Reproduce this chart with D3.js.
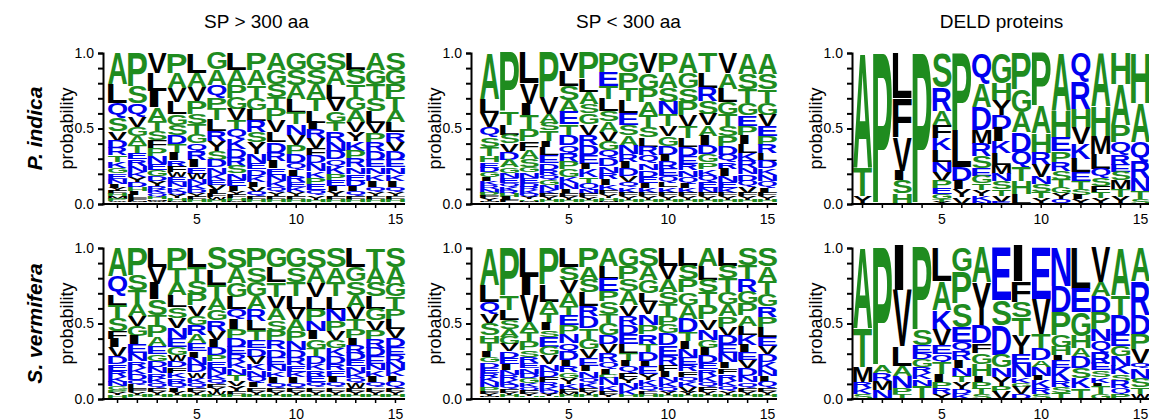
<!DOCTYPE html>
<html lang="en">
<head>
<meta charset="utf-8">
<script src="https://cdn.jsdelivr.net/npm/d3@7"></script>
<style>
  body { margin: 0; background: #fff; }
  svg text { font-family: "Liberation Sans", Arial, sans-serif; }
</style>
</head>
<body>
<script>
const positions = d3.range(1, 16)
const xTickLabels = [5, 10, 15]
const yTickLabels = [0, 0.5, 1]
const colTitles = ['SP > 300 aa', 'SP < 300 aa', 'DELD proteins']
const rowTitles = ['P. indica', 'S. vermifera']

// one string per position, letters listed top to bottom, value = probability in %
const indicaLong = [
  'A20 L12 Q10 S8 V6 D5 R4.5 T4 K4 G3.5 E3.5 N3 I2.5 Y2 F2 H1.5 M1.5 P1.5 W1 C1',
  'P20 S10 Q8 V6 G5.5 A5 T4.5 E4 R4 N3.5 K3 Y3 D3 H2.5 I2 L2 F1.5 M1 W1',
  'V12 L11 I10 A8 T6 S5.5 F5 P5 N4.5 E4 G3.5 D3 Y3 R2.5 K2 Q2 H1.5 M1 W1 C1',
  'P12 A9 V8.5 L7.5 G6.5 S6 D5.5 T5 I4.5 R4 F3.5 W3 E3 N3 K2.5 Q2 Y2 H1.5 M1 C1',
  'L12 A9 V8.5 P7.5 S6.5 T6 G5.5 Q5 R5 I4.5 E4 W3.5 N3 K3 D2.5 Y2 F2 H1.5 M1',
  'G10 A9 Q8 P6.5 T7 L6.5 R6 Y6 S5.5 D4.5 N4 K3.5 E3 V3 I2.5 F2 W1.5 H1.5 M1',
  'L10 A9 P8 G7 V6.5 T6 Q5.5 K6 D5 R5 S4.5 N4 E3.5 I3 Y2.5 F2 H1.5 M1 W1',
  'P10 A9 T8 G7 L6.5 R6.5 S6 Y7 N5 E4 D4 K3.5 I3 V3 Q2.5 F2 H1.5 M1',
  'A10 G8 S7.5 T7 P6.5 V7 L6 D6 R5 I4 E4 N3.5 K3.5 Q3 Y2.5 F2 H1.5 M1',
  'G10 S9 A8 L8 T6.5 N6 V6 P5.5 D5 Q4 I3.5 R3.5 E3 K3 Y2.5 F2 H1.5 M1',
  'G10 S8.5 A8 T7.5 L7 I4 R5 V6 F4.5 D4.5 N4.5 K4 P4 E3.5 Q3 Y2.5 H1.5 M1',
  'S10 A9 L8 V7.5 G6.5 T5.5 R6 N5.5 D5 Q4 K4.5 P4 E3.5 I3 Y3 F2 H1.5 M1',
  'L10 S9 T8 G7.5 A7 V6 Y5.5 K5.5 P5 R5 N4 E4 D3.5 I3 Q3 F2 H1.5 M1',
  'A10 G8.5 T8 S7.5 L7 V6 P5.5 R5 D5 E4.5 N4 K4 I3.5 Q3 Y2.5 F2 H1.5 M1',
  'S10 G8.5 P7.5 T7.5 A7 L6 R5.5 V5.5 D5 E4.5 N4 K4 I3.5 Q3 Y2.5 F2 H1.5 M1'
]
const indicaShort = [
  'A29 L9 V9 Q6.5 S6 T5.5 H4 E3.5 D3 G3 I2.5 K2.5 R2.5 N2.5 P2 F1.5 Y1.5 M1 W1',
  'P38 T8 L6.5 S5.5 V6 D5 A4.5 G3.5 N3.5 E3 Q2.5 K2.5 R2 H2 I2 F1.5 Y1',
  'L19 V13 I7 T9 P7.5 F6 A5.5 S4.5 G3.5 N3.5 E3 D2.5 R2.5 K2 Q2 Y1.5 H1 M1 C1',
  'P28 V10 A5.5 S5 T6.5 I4 L5 E5 D4 R3.5 Q3 G3 N3 K2.5 F2 Y2 H1.5 M1',
  'V11 L9 S8.5 A7 E7.5 T6.5 D6.5 Q5 R5 P4.5 G4.5 K4 N3.5 I2.5 F2 Y2 H1.5 M1',
  'P16 L8 A7.5 S6 G6.5 V6.5 R6.5 D6 E5.5 I3.5 K5 T4 Q3.5 N3 F2 Y1.5 H1.5 M1',
  'P11 E8 T7.5 L7 S6 A6 V5.5 G5 Q4.5 D4.5 N4 R3.5 I3.5 K3 F2.5 Y2 H1.5 M1 W1',
  'G11 P9 T7.5 L7 E6.5 S6 A6 N5 R4.5 I4 D4 V3.5 Q3 K3 F2 Y2 H1.5 M1',
  'V12 G9 P8 A7.5 T7 S6 L5.5 R5 Q4.5 N4 D4 E3.5 I3 K3 F2 Y2 H1.5 M1',
  'P11 A9 S8 N7 T6.5 V6 G5.5 D5 I4 R4 E4 Q3.5 L3 K3 F2 Y2 H1.5 M1',
  'A12 G9 S8 P8 V7 T6.5 L5.5 D5 E4.5 R4 N4 Q3.5 I3 K3 F2 Y2 H1.5 M1',
  'T11 L9 R8 S7.5 V6.5 A6 I5.5 D5 G4.5 P4 K4 Q3.5 E3.5 N3 F2 Y2 H1.5 M1',
  'V12 A9 L8 G7 T6.5 S6 P6 D5 Q4.5 R4 I4 N3.5 E3.5 K3 F2 Y2 H1.5 M1',
  'A12 S9 T8 G7 E6 P5.5 I5 L5 K4.5 R4 N4 D3.5 Q3.5 V3.5 F2 Y2 H1.5 M1',
  'A12 S9 T7.5 G7 V6.5 E5.5 P5 R5 L4.5 D4 K4 N3.5 Q3.5 I3 F2 Y2 H1.5 M1'
]
const indicaDeld = [
  'A76 T19 Y5',
  'P100',
  'L30 F26 V22 I6 S9 H7',
  'P100',
  'S23 R15.5 A9.5 F8.5 K8 L7.5 N6.5 V6 P5 E4 G3 T2 Y1.5',
  'P51 L24 D9 I5.5 Y5 V4.5',
  'Q20 A15.5 D15 M9 R8 S7.5 E5 G5 T4.5 Y4 K3 N2',
  'G20 H11 Y10 D9 I8.5 K8 L7.5 M6 N5 S5 T4.5 V4 E1.5',
  'P24 G15 A13.5 D13 Q10.5 T9 H8.5 L6.5',
  'P35 A18 H13 R8 V8 N5 S5 T4 Y4',
  'A38 H18 E9 P7 R6 S6 T5 G4 Y4 Q3',
  'Q19 R18 H12 V11 K10 L9 E6 T5 S4 I3 Y3',
  'A35 H20 M12 L10 Q6 S5 F4 T4 Y4',
  'H20 A26 P11 Q8 R6.5 E4.5 S5.5 M5.5 T5 Y4.5',
  'H33 A26 Q13 R11 N9 T5 S3'
]
const vermiferaLong = [
  'A19 Q13 L7 T8.5 S9 F5.5 I5.5 V6.5 D5 E4.5 R4 K3.5 N3 G2.5 P2 Y1.5 H1.5 M1',
  'P18 S10 T9 A8 V6.5 G6.5 I5.5 E6 N5 R4.5 K4 D4 Q3 L3 F2 Y2 H1.5 M1',
  'L12 V11 I10 S10 T7.5 P7 A5.5 E5 G4.5 D4 N4 R3.5 K3 Q3 F2.5 Y2 H1.5 M1',
  'P13 T9 A8.5 L7.5 S7 V6.5 N6.5 E6 G5 W4 D4 F3.5 K3.5 R3.5 Q3 I2.5 Y2 H1.5 M1',
  'L12 T9 S8 P7 V6.5 G6 R6 A5.5 E5 I4 N4.5 D4.5 W3.5 K3.5 Q3 F2.5 Y2 H1.5 M1',
  'S13 L9 T8 A7 G6.5 R6 V5.5 I4.5 D4.5 P4 E4 N3.5 K3 Q3 F2.5 Y2 W2 H1.5 M1',
  'S12 A9 G8.5 L7.5 Q6 I6 P5.5 D5 E4.5 R4.5 K4 N4 T3.5 V3 Y3 F2.5 H1.5 M1',
  'P12 S9 G8.5 A8 R7 L6 T6 E5 D5 V4.5 K4 N4 Q3.5 I3 F2.5 Y2 H1.5 M1',
  'G12 L9 T9 V7.5 A7 S6.5 P6 R5.5 D5 E4.5 N4 K3.5 I3.5 Q3 F2.5 Y2 H1.5 M1',
  'G12 S9 T8.5 L8 V7 A7 P6 N5.5 D5 R4.5 E4 K3.5 I3.5 Q3 F2.5 Y2 H1.5 M1',
  'S12 A9 V8.5 L8 P7 N6 I5 G5.5 T4.5 D4.5 K4 R4 E3.5 Q3 F2.5 Y2 H1.5 M1',
  'S12 A9 T8.5 L8 N7 P6 V5.5 G5 K5 D4.5 R4 E4 I3.5 Q3 F2.5 Y2 H1.5 M1',
  'L12 G9 S8.5 A8 V7 T6.5 P6 I4.5 R4.5 D4.5 E4 N4 K3.5 Q3 W3 F2.5 Y2 H1.5 M1',
  'T12 A9 S8.5 L7.5 G7 V6 P5.5 R5 D5 E4.5 N4 K4 I3.5 Q3 F2.5 Y2 H1.5 M1',
  'S12 A10 G8 T7.5 P6.5 L6 V5.5 D5.5 E5 R5 N4.5 K4 I3.5 Q3.5 F2.5 Y2 H1.5 M1'
]
const vermiferaShort = [
  'A24 L11 Q8 V6.5 S7.5 H4.5 T6 I3.5 G3.5 D3.5 E3.5 R3 K3 N3 P2.5 F2 Y1.5 M1 W1',
  'P30 T9 L6 S6 A5 G4.5 V4.5 D4 E4 I3.5 N3.5 R3 K3 Q3 F2 Y1.5 H1.5 M1',
  'L19 I12 V17 A6.5 T6 P5.5 S4.5 R4 E3.5 N3.5 D3 G3 K2.5 Q2.5 F2 Y1.5 H1 M1',
  'P24 L11 A7.5 T6.5 I4.5 S4.5 E6.5 G5.5 V5.5 N4.5 D4 F3.5 R3 K2.5 Q2 Y1.5 H1 M1',
  'L12 S8 V8 A8 T5.5 E6.5 P5.5 N5.5 Q5.5 D5.5 I3.5 R4 G3.5 Y3.5 K3 F2.5 M1.5 H1.5 W1',
  'P12 A8 S8 L8.5 R6.5 D7.5 T6.5 G6.5 V5.5 E5 I3.5 N4 Q3.5 K3 F2.5 Y2 H1.5 M1',
  'A11 L8 E7.5 P6.5 S7.5 T5.5 G7.5 D5.5 V5.5 R5.5 Q4.5 I3.5 C2 N4.5 K3.5 F2.5 Y1.5 H1',
  'G11 P8 S7.5 A8.5 V6.5 R5.5 D5.5 E6.5 L5.5 T4.5 I3.5 Q4 F3.5 Y3 N3.5 K3.5 H1.5 M1',
  'S11 A8.5 G8 L5.5 V7.5 N6.5 P5.5 R6.5 T4.5 D5.5 I3 E4.5 Y4 K3.5 Q3 F2.5 H1.5 M1',
  'L11 V8.5 A8 S7.5 T7.5 P5.5 G5.5 D7.5 E6.5 R5.5 F4 I3.5 N3.5 K3 Q3 Y2 H1.5 M1',
  'L11 S8.5 P8 G7.5 A8.5 D8.5 T5.5 I4.5 N5.5 E4.5 R4 F3.5 Q3 K3 V3 Y2 H1.5 M1',
  'A11 L8.5 S7.5 T7.5 P8.5 V6.5 N6.5 G4.5 I4.5 D4.5 E4 R4 K3.5 Q3 F3 Y2 H1.5 M1',
  'L11 S8 T8.5 G7.5 A7.5 P6.5 V5.5 D5.5 E5.5 N5.5 I4 F3.5 R4 K3.5 Q3 Y2.5 H1.5 M1',
  'S11 T8.5 R8 G7.5 P7.5 A6.5 L5.5 K6.5 I5 E4.5 V5 D5 N4 Q3.5 F2.5 Y2 H1.5 M1',
  'S11 A9 T8 G7.5 R6.5 P6.5 L6 E5.5 V5 D5 K4.5 N4 I3.5 Q3.5 F2.5 Y2 H1.5 M1'
]
const vermiferaDeld = [
  'A53 T25.5 M10 R4.5 K4 S3',
  'P78 A5 R5 M6 N6',
  'I28 V37 L13 A7 N8 P4 T3',
  'P55 S10 E5 D4 G5 R4.5 K4 N4.5 T8.5',
  'L22 A19 K13 V11 E5.5 Q5.5 T7.5 I5 P4.5 R4 Y3',
  'G15.5 P21 S16 E10 Q6.5 R5.5 I5 N5 T4.5 Y5 D3 K3',
  'A22 Y28 D11 F6 G7 H7.5 I4 P4 T4 S3',
  'E33 S16 D19 G8 N6 Y5.5 P4 V4.5',
  'I22 F13 S10 T12 Y12 E6.5 N8.5 K3.5 G2.5 V5 D3',
  'E34 V23 T10 D7.5 A4.5 N5.5 I3 K5 R4.5 S3',
  'N25 D16.5 P15.5 G7.5 H5.5 I3.5 E4.5 K8.5 R4 S4 T4',
  'L26.5 E15.5 G15.5 H8 A5.5 D7.5 S6.5 K6.5 T7',
  'V22 A9 D11 P11 N7.5 Q7.5 R7 E4.5 S4.5 K3.5 I2.5 T5 G3',
  'A31 T13 D13 E7.5 G6.5 N6.5 K5.5 S4.5 R5 Q4 P3',
  'A22 R22 D13 P10 V9 Q3.5 N6.5 S6 T4 W3.5'
]

const logos = [
  [indicaLong, indicaShort, indicaDeld],
  [vermiferaLong, vermiferaShort, vermiferaDeld]
]

const W = 1149, H = 419
const step = 19.8
const colLeft = [108, 480, 853]
const axisX = [103, 471, 852]
const rowTop = [53, 248]
const rowH = 151

const green = '#1f8c1f', blue = '#0000f0', black = '#000'
function colorOf(ch) {
  if ('APGSTHC'.includes(ch)) return green
  if ('QNRKDE'.includes(ch)) return blue
  return black
}

// ink box of each glyph, measured once on a canvas
const ctx = document.createElement('canvas').getContext('2d')
const metrics = {}
function glyph(ch) {
  if (!metrics[ch]) {
    const fam = ch === 'I' ? '"Liberation Serif"' : '"Liberation Sans"'
    ctx.font = 'bold 100px ' + fam
    const m = ctx.measureText(ch)
    metrics[ch] = {fam: fam, l: m.actualBoundingBoxLeft, r: m.actualBoundingBoxRight,
                   a: m.actualBoundingBoxAscent, d: m.actualBoundingBoxDescent}
  }
  return metrics[ch]
}

const svg = d3.select('body').append('svg')
  .attr('width', W)
  .attr('height', H)

function drawPanel(data, r, c) {
  const g = svg.append('g')
  const x = d3.scaleBand()
    .domain(positions)
    .range([colLeft[c], colLeft[c] + step * positions.length])
    .paddingInner(0.04)
  const y = d3.scaleLinear()
    .domain([0, 1])
    .range([rowTop[r] + rowH, rowTop[r]])

  data.forEach(function(s, i) {
    const stack = s.split(' ').map(function(t) { return {aa: t[0], p: +t.slice(1)} })
    const total = d3.sum(stack, function(d) { return d.p })
    let cum = 0
    stack.forEach(function(d) {
      const p = d.p / total
      const by = y(1 - cum)
      const bh = y(1 - cum - p) - by
      cum += p
      if (bh < 0.4) return
      const m = glyph(d.aa)
      const bx = x(positions[i])
      const bw = x.bandwidth()
      const sx = bw / (m.l + m.r)
      const sy = bh / (m.a + m.d)
      g.append('text')
        .attr('font-family', m.fam)
        .attr('font-weight', 'bold')
        .attr('font-size', 100)
        .attr('fill', colorOf(d.aa))
        .attr('transform', 'translate(' + (bx + m.l * sx) + ',' + (by + m.a * sy) + ') scale(' + sx + ',' + sy + ')')
        .text(d.aa)
    })
  })

  // y axis
  const yAxis = d3.axisLeft(y)
    .tickValues(d3.range(0, 11).map(function(k) { return k / 10 }))
    .tickSize(5)
    .tickFormat(function(d) { return yTickLabels.some(function(v) { return Math.abs(v - d) < 1e-6 }) ? d3.format('.1f')(d) : '' })
  const ya = g.append('g')
    .attr('transform', 'translate(' + axisX[c] + ',0)')
    .call(yAxis)
  ya.selectAll('text').attr('font-size', 14).attr('fill', '#000').attr('dx', '-1')
  ya.selectAll('path, line').attr('stroke', '#000').attr('stroke-width', 2)

  // x axis
  const xAxis = d3.axisBottom(x)
    .tickValues(positions)
    .tickSize(4)
    .tickSizeOuter(0)
    .tickFormat(function(d) { return xTickLabels.includes(d) ? d : '' })
  const xa = g.append('g')
    .attr('transform', 'translate(0,' + y(0) + ')')
    .call(xAxis)
  xa.select('.domain').remove()
  xa.selectAll('text').attr('font-size', 14).attr('fill', '#000').attr('dy', '0.9em')
  xa.selectAll('line').attr('stroke', '#000').attr('stroke-width', 1.5)
  g.append('line')
    .attr('x1', axisX[c] - 1).attr('x2', x.range()[1])
    .attr('y1', y(0)).attr('y2', y(0))
    .attr('stroke', '#000').attr('stroke-width', 2)

  // axis title
  g.append('text')
    .attr('transform', 'translate(' + (axisX[c] - 30) + ',' + (rowTop[r] + rowH / 2) + ') rotate(-90)')
    .attr('text-anchor', 'middle')
    .attr('font-size', 18)
    .text('probability')
}

logos.forEach(function(row, r) {
  row.forEach(function(data, c) { drawPanel(data, r, c) })
})

colTitles.forEach(function(t, c) {
  svg.append('text')
    .attr('x', colLeft[c] + step * 7.5)
    .attr('y', 28)
    .attr('text-anchor', 'middle')
    .attr('font-size', 19)
    .text(t)
})

rowTitles.forEach(function(t, r) {
  svg.append('text')
    .attr('transform', 'translate(' + 42 + ',' + (rowTop[r] + rowH / 2) + ') rotate(-90)')
    .attr('text-anchor', 'middle')
    .attr('font-size', 21)
    .attr('font-weight', 'bold')
    .attr('font-style', 'italic')
    .text(t)
})
</script>
</body>
</html>
